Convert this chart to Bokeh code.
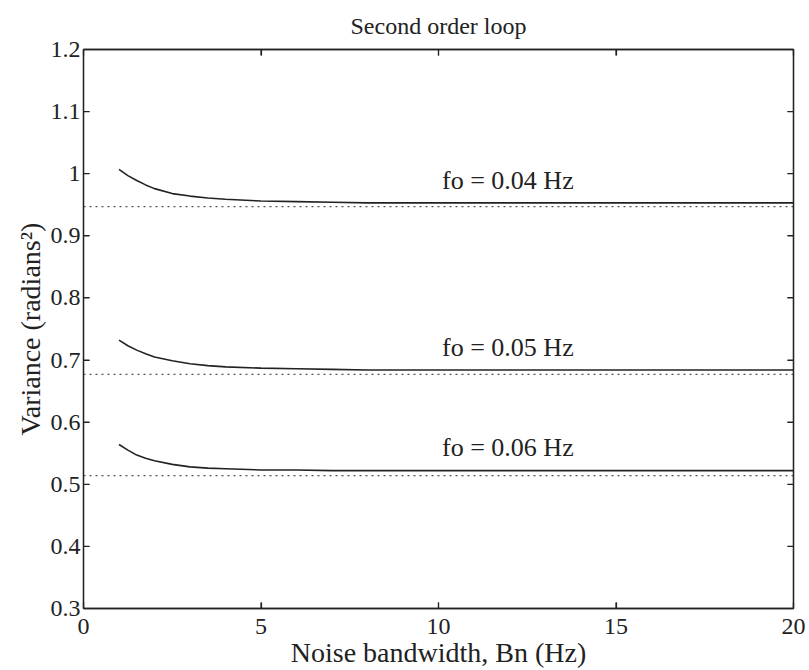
import math
from bokeh.plotting import figure
from bokeh.models import Range1d, LinearAxis, FixedTicker, Label
from bokeh.embed import file_html
from bokeh.resources import INLINE

# Noise bandwidth (Hz)
bn = [1, 1.25, 1.5, 1.75, 2, 2.5, 3, 3.5, 4, 5, 6, 7, 8, 10, 12, 15, 20]

# Phase error variance of the second order loop (radians^2)
var_f004 = [1.007, 0.997, 0.989, 0.982, 0.976, 0.968, 0.964, 0.961, 0.959,
            0.956, 0.955, 0.954, 0.953, 0.953, 0.953, 0.953, 0.953]
var_f005 = [0.732, 0.723, 0.716, 0.710, 0.705, 0.699, 0.694, 0.691, 0.689,
            0.687, 0.686, 0.685, 0.684, 0.684, 0.684, 0.684, 0.684]
var_f006 = [0.564, 0.555, 0.547, 0.542, 0.538, 0.532, 0.528, 0.526, 0.525,
            0.523, 0.523, 0.522, 0.522, 0.522, 0.522, 0.522, 0.522]

# Limiting variance for each oscillator frequency
limit_bn = [0, 20]
limits = [0.947, 0.677, 0.514]
labels = ["fo = 0.04 Hz", "fo = 0.05 Hz", "fo = 0.06 Hz"]
label_pos = [(10.1, 0.989), (10.1, 0.720), (10.1, 0.559)]

x_lim = (0, 20)
y_lim = (0.3, 1.2)
x_ticks = [0, 5, 10, 15, 20]
y_ticks = [0.3, 0.4, 0.5, 0.6, 0.7, 0.8, 0.9, 1.0, 1.1, 1.2]
y_tick_text = ["0.3", "0.4", "0.5", "0.6", "0.7", "0.8", "0.9", "1", "1.1", "1.2"]

FONT = "Liberation Serif"
INK = "#222222"

p = figure(width=809, height=670, output_backend="svg", toolbar_location=None,
           x_range=Range1d(*x_lim), y_range=Range1d(*y_lim),
           min_border_left=83, min_border_right=16,
           min_border_top=49, min_border_bottom=62)

p.title.text = "Second order loop"
p.title.align = "center"
p.title.text_font = FONT
p.title.text_font_size = "24px"
p.title.text_font_style = "normal"
p.title.text_color = INK
p.title.standoff = 21

p.xgrid.visible = False
p.ygrid.visible = False
p.outline_line_color = INK
p.outline_line_width = 1.3
p.background_fill_color = "white"
p.border_fill_color = "white"


def style_axis(ax, ticks, show_labels):
    ax.ticker = FixedTicker(ticks=ticks)
    ax.minor_tick_line_color = None
    ax.major_tick_in = 6
    ax.major_tick_out = 0
    ax.major_tick_line_color = INK
    ax.major_tick_line_width = 1.2
    ax.axis_line_color = INK
    ax.axis_line_width = 1.3
    ax.major_label_text_font = FONT
    if show_labels:
        ax.major_label_text_color = INK
        ax.major_label_text_font_size = "24px"
    else:
        # tick marks only on the mirrored sides of the box
        ax.major_label_text_color = None
        ax.major_label_text_font_size = "1px"
        ax.major_label_standoff = 0
    ax.axis_label_text_font = FONT
    ax.axis_label_text_font_size = "28px"
    ax.axis_label_text_font_style = "normal"
    ax.axis_label_text_color = INK


xa = p.xaxis[0]
style_axis(xa, x_ticks, True)
xa.axis_label = "Noise bandwidth, Bn (Hz)"
xa.major_label_standoff = 10
xa.axis_label_standoff = 0

ya = p.yaxis[0]
style_axis(ya, y_ticks, True)
ya.major_label_overrides = {t: s for t, s in zip(y_ticks, y_tick_text)}
ya.axis_label = "Variance (radians²)"
ya.major_label_standoff = 3
ya.axis_label_standoff = 2

top = LinearAxis()
style_axis(top, x_ticks, False)
p.add_layout(top, "above")

right = LinearAxis()
style_axis(right, y_ticks, False)
p.add_layout(right, "right")

# Inward tick marks on all four sides of the box (the outer half of each
# dash is clipped away by the frame)
p.scatter(x_ticks, [y_lim[0]] * len(x_ticks), marker="dash", size=12,
          angle=math.pi / 2, line_color=INK, line_width=1.2)
p.scatter(x_ticks, [y_lim[1]] * len(x_ticks), marker="dash", size=12,
          angle=math.pi / 2, line_color=INK, line_width=1.2)
p.scatter([x_lim[0]] * len(y_ticks), y_ticks, marker="dash", size=12,
          line_color=INK, line_width=1.2)
p.scatter([x_lim[1]] * len(y_ticks), y_ticks, marker="dash", size=12,
          line_color=INK, line_width=1.2)

# Limiting variance levels (dotted)
for lv in limits:
    p.line(limit_bn, [lv, lv], line_color="#555555", line_width=1.4,
           line_dash="2 4")

# Variance versus noise bandwidth
for series in (var_f004, var_f005, var_f006):
    p.line(bn, series, line_color=INK, line_width=1.6)

for txt, (lx, ly) in zip(labels, label_pos):
    p.add_layout(Label(x=lx, y=ly, text=txt, text_font=FONT,
                       text_font_size="26px", text_color=INK,
                       text_align="left", text_baseline="middle"))

open("out.html", "w").write(file_html(p, INLINE))
